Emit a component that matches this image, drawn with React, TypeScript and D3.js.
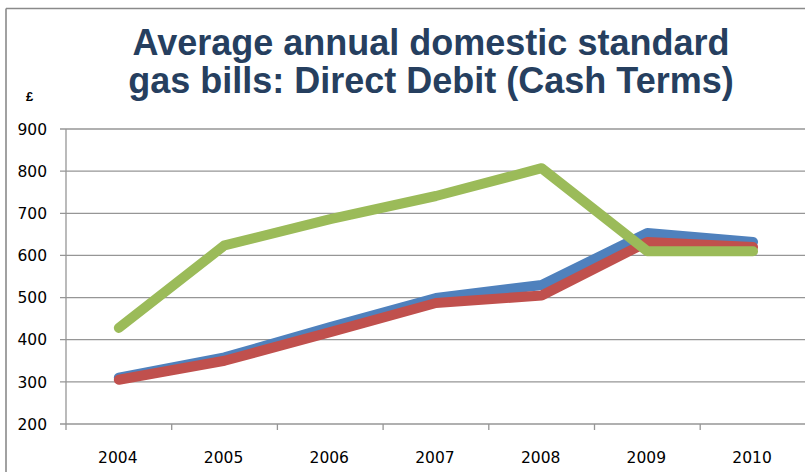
import React from "react";
import * as d3 from "d3";

const years = ["2004", "2005", "2006", "2007", "2008", "2009", "2010"];
const blueValues = [310, 358, 430, 499, 530, 653, 632];
const redValues = [305, 350, 418, 487, 505, 632, 620];
const greenValues = [428, 624, 686, 741, 807, 610, 610];
const yTicks = [200, 300, 400, 500, 600, 700, 800, 900];
const titleLines = ["Average annual domestic standard", "gas bills: Direct Debit (Cash Terms)"];

const W = 805;
const H = 472;
const left = 66;
const bandW = 105.7;
const top = 129;
const bottom = 424;

export default function App() {
  const x = d3
    .scaleBand<string>()
    .domain(years)
    .range([left, left + bandW * years.length])
    .paddingInner(0)
    .paddingOuter(0);
  const y = d3.scaleLinear().domain([200, 900]).range([bottom, top]);
  const line = d3
    .line<number>()
    .x((_, i) => (x(years[i]) as number) + x.bandwidth() / 2)
    .y((d) => y(d));

  const series = [
    { vals: blueValues, color: "#4F81BD" },
    { vals: redValues, color: "#C0504D" },
    { vals: greenValues, color: "#9BBB59" },
  ];
  const fontTick = "'DejaVu Sans', sans-serif";

  return (
    <svg
      width={W}
      height={H}
      style={{ position: "absolute", left: 0, top: 0, background: "#fff" }}
    >
      <rect x={0} y={0} width={W} height={H} fill="#fff" />
      {/* frame */}
      <line x1={6} y1={8.5} x2={W + 2} y2={8.5} stroke="#8a8a8a" strokeWidth={1.6} />
      <line x1={6} y1={8.5} x2={6} y2={H + 2} stroke="#8a8a8a" strokeWidth={1.6} />

      {/* title */}
      {titleLines.map((t, i) => (
        <text
          key={i}
          x={431}
          y={55 + i * 38}
          textAnchor="middle"
          fill="#263F5F"
          fontFamily="'Liberation Sans', Arial, sans-serif"
          fontWeight="bold"
          fontSize={36}
        >
          {t}
        </text>
      ))}
      <text x={26} y={101} fontFamily="'Liberation Sans', Arial, sans-serif" fontWeight="bold" fontSize={13} fill="#000">
        £
      </text>

      {/* gridlines */}
      {yTicks.map((t) => (
        <g key={t}>
          <line x1={left - 6} x2={W + 2} y1={y(t)} y2={y(t)} stroke="#969696" strokeWidth={1.3} />
          <text
            x={47}
            y={y(t) + 5.7}
            textAnchor="end"
            fontFamily={fontTick}
            fontSize={15.5}
            fill="#000"
          >
            {t}
          </text>
        </g>
      ))}
      {/* y axis */}
      <line x1={left} x2={left} y1={top} y2={bottom} stroke="#969696" strokeWidth={1.3} />
      {/* x ticks */}
      {years.map((yr) => (
        <g key={yr}>
          <line
            x1={(x(yr) as number) + bandW}
            x2={(x(yr) as number) + bandW}
            y1={bottom}
            y2={bottom + 6}
            stroke="#969696"
            strokeWidth={1.3}
          />
          <text
            x={(x(yr) as number) + bandW / 2 - 1}
            y={463}
            textAnchor="middle"
            fontFamily={fontTick}
            fontSize={15.5}
            fill="#000"
          >
            {yr}
          </text>
        </g>
      ))}
      <line x1={left} x2={left} y1={bottom} y2={bottom + 6} stroke="#969696" strokeWidth={1.3} />

      {/* series */}
      {series.map((s, i) => (
        <path
          key={i}
          d={line(s.vals) as string}
          fill="none"
          stroke={s.color}
          strokeWidth={10}
          strokeLinecap="round"
          strokeLinejoin="round"
        />
      ))}
    </svg>
  );
}
